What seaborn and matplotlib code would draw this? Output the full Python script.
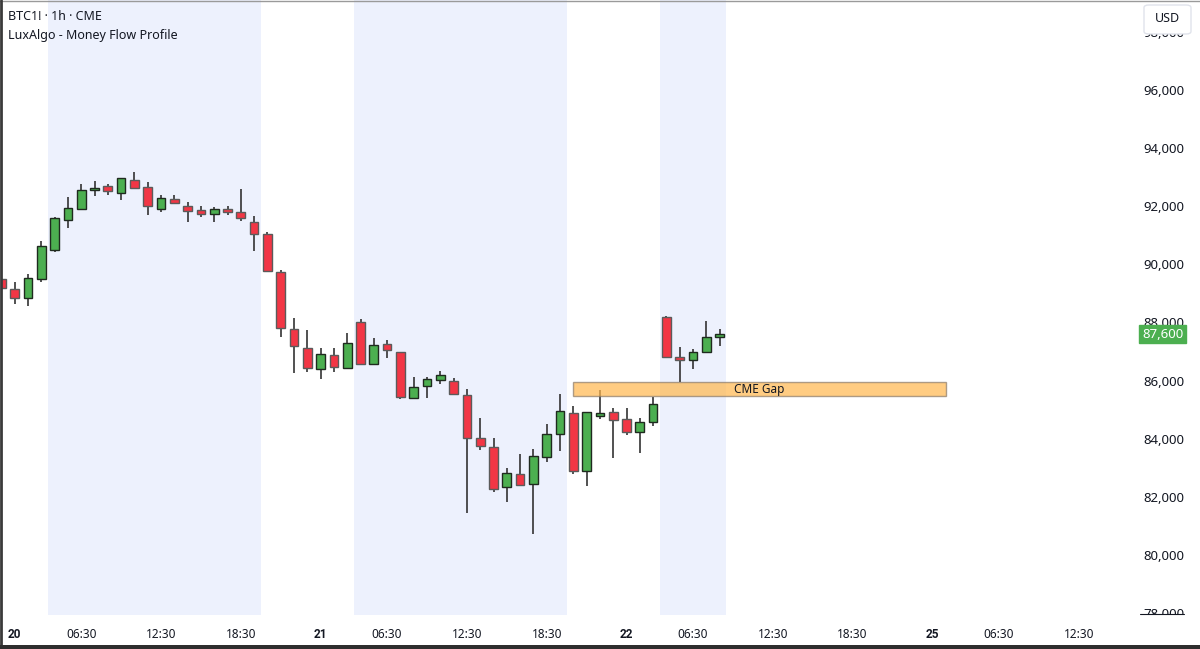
import numpy as np
import pandas as pd
import seaborn as sns
import matplotlib.pyplot as plt
from matplotlib.patches import Rectangle, FancyBboxPatch
from matplotlib.lines import Line2D

# bar index (23 hourly bars per day, -1 is the partly cut bar on the left)
bar_idx = list(range(-1, 54))

opens = [89495, 89140, 88851, 89505, 90503, 91536, 91904, 92548, 92685, 92465, 92902,
         92651, 91914, 92238, 91997, 91880, 91742, 91894, 91801, 91456, 91043, 89746,
         87784, 87109, 86384, 86868, 86442, 88025, 86558, 87269, 86992, 85386, 85822,
         86006, 85984, 85502, 84009, 83722, 82330, 82767, 82443, 83355, 84157, 84880,
         82894, 84779, 84917, 84686, 84239, 84583, 88176, 86810, 86696, 86992, 87509]
highs = [89560, 89402, 89667, 90803, 91639, 92317, 92754, 92868, 92765, 92961, 93178,
         92823, 92396, 92396, 92135, 92007, 91973, 92007, 92582, 91663, 91123, 89804,
         88142, 87739, 87109, 87109, 87626, 88108, 87472, 87395, 86992, 86132, 86111,
         86336, 86098, 85696, 84700, 84009, 82984, 83455, 83641, 84504, 85537, 85131,
         84917, 85674, 85065, 85065, 84700, 85443, 88221, 87144, 87075, 88059, 87763]
lows = [89150, 88634, 88576, 89402, 90414, 91260, 91870, 92351, 92376, 92203, 92617,
        91708, 91790, 92090, 91446, 91618, 91446, 91687, 91501, 90469, 89780, 87486,
        86248, 86283, 86053, 86283, 86397, 86524, 86558, 86784, 85352, 85386, 85386,
        85890, 85537, 81451, 83619, 82173, 81814, 82410, 80717, 83183, 83585, 82770,
        82370, 84665, 83323, 84125, 83495, 84435, 86765, 85960, 86397, 86992, 87188]
closes = [89196, 88830, 89519, 90630, 91605, 91928, 92558, 92617, 92524, 92961, 92617,
          92007, 92293, 92121, 91825, 91742, 91914, 91790, 91584, 91033, 89780, 87797,
          87178, 86442, 86903, 86476, 87281, 86579, 87223, 87051, 85443, 85787, 86042,
          86178, 85537, 84009, 83757, 82257, 82811, 82410, 83387, 84157, 84951, 82894,
          84917, 84893, 84631, 84239, 84583, 85202, 86820, 86707, 86992, 87488, 87600]

# time axis
tick_pos = [0, 5, 11, 17, 23, 28, 34, 40, 46, 51, 57, 63, 69, 74, 80]
tick_labels = ['20', '06:30', '12:30', '18:30', '21', '06:30', '12:30', '18:30',
               '22', '06:30', '12:30', '18:30', '25', '06:30', '12:30']
day_labels = ['20', '21', '22', '25']

# session shading (bar index ranges)
session_start = [2.5, 25.5, 48.5]
session_end = [18.5, 41.5, 53.5]

# CME gap box
gap_x = [42, 70]
gap_low, gap_high = 85467, 85939

price_ticks = list(range(78000, 100000, 2000))
last_price = 87600

df = pd.DataFrame({'idx': bar_idx, 'open': opens, 'high': highs, 'low': lows, 'close': closes})
df['up'] = df['close'] >= df['open']

sns.set_theme(style='white')
plt.rcParams['font.family'] = ['Noto Sans', 'DejaVu Sans']

W, H = 1200, 649
fig = plt.figure(figsize=(12, 6.49), dpi=100)
fig.patch.set_facecolor('white')

# chart pane in pixels: x 2..1132, y 0..615 from top
ax = fig.add_axes([2 / W, (H - 615) / H, 1130 / W, 615 / H])
ax.set_facecolor('white')

for s, e in zip(session_start, session_end):
    ax.axvspan(s, e, color='#edf1fd', zorder=0, lw=0)

green, red = '#4caf50', '#f23645'
for _, r in df.iterrows():
    body_col = green if r['up'] else red
    edge_col = '#1f2a1f' if r['up'] else '#5b5b5b'
    ax.vlines(r['idx'], r['low'], r['high'], color='#333333', lw=1.2, zorder=2)
    lo = min(r['open'], r['close'])
    hgt = max(abs(r['close'] - r['open']), 40)
    ax.bar(r['idx'], hgt, bottom=lo, width=0.66, color=body_col,
           edgecolor=edge_col, linewidth=1.0, zorder=3)

# CME gap
ax.add_patch(Rectangle((gap_x[0], gap_low), gap_x[1] - gap_x[0], gap_high - gap_low,
                       facecolor='#ffb74d', alpha=0.7, edgecolor='#8a7a6a', lw=1.0, zorder=4))
ax.text((gap_x[0] + gap_x[1]) / 2, (gap_low + gap_high) / 2, 'CME Gap',
        ha='center', va='center', fontsize=8.5, color='#131722', zorder=5)

ax.set_xlim((2 - 14.7) / 13.3, (1132 - 14.7) / 13.3)
ax.set_ylim(77930, 99098)

ax.set_xticks(tick_pos)
ax.set_xticklabels(tick_labels)
ax.tick_params(axis='x', length=0, pad=9, labelsize=8.5, labelcolor='#131722')

ax.yaxis.tick_right()
ax.set_yticks(price_ticks)
ax.set_yticklabels([f'{p:,}' for p in price_ticks])
ax.tick_params(axis='y', length=0, pad=8, labelsize=9.5, labelcolor='#131722')

# day numbers in bold
for lab in ax.get_xticklabels():
    if lab.get_text() in day_labels:
        lab.set_fontfamily(['Roboto', 'DejaVu Sans'])
        lab.set_fontweight('bold')

for side in ['top', 'right', 'bottom', 'left']:
    ax.spines[side].set_visible(False)
ax.grid(False)

# last price badge
ax.text(1.009, last_price, f'{last_price:,}', transform=ax.get_yaxis_transform(),
        ha='left', va='center', fontsize=9.5, color='white', zorder=10, clip_on=False,
        bbox=dict(boxstyle='square,pad=0.22', facecolor=green, edgecolor=green))

# header text
fig.text(8 / W, 1 - 17 / H, 'BTC1! · 1h · CME', fontsize=9, color='#131722', va='center', ha='left')
fig.text(8 / W, 1 - 35 / H, 'LuxAlgo - Money Flow Profile', fontsize=9, color='#131722', va='center', ha='left')

# hide lower half of the 78,000 label, like the pane edge
fig.patches.append(Rectangle((1133 / W, 4 / H), 67 / W, (H - 615 - 4) / H, transform=fig.transFigure,
                             facecolor='white', edgecolor='none', zorder=6))
fig.lines.append(Line2D([1140 / W, 1184 / W], [(H - 614) / H] * 2, transform=fig.transFigure,
                        color='#131722', lw=0.8, zorder=7))

# USD button
fig.patches.append(FancyBboxPatch((1144 / W, 1 - 34 / H), 47 / W, 29 / H, transform=fig.transFigure,
                                  boxstyle='round,pad=0,rounding_size=0.004', facecolor='white',
                                  edgecolor='#e0e3eb', lw=1.0, zorder=8))
fig.text(1167.5 / W, 1 - 18 / H, 'USD', fontsize=9, color='#131722', ha='center', va='center', zorder=9)

# frame lines of the screenshot
fig.lines.append(Line2D([0, 1], [1 - 0.5 / H] * 2, transform=fig.transFigure, color='#9a9a9a', lw=1, zorder=9))
fig.lines.append(Line2D([1 / W] * 2, [0, 1], transform=fig.transFigure, color='#3a3a3a', lw=2, zorder=9))
fig.patches.append(Rectangle((0, 0), 1, 4 / H, transform=fig.transFigure,
                             facecolor='#2e2e2e', edgecolor='none', zorder=9))

fig.savefig('out.png', dpi=100)
